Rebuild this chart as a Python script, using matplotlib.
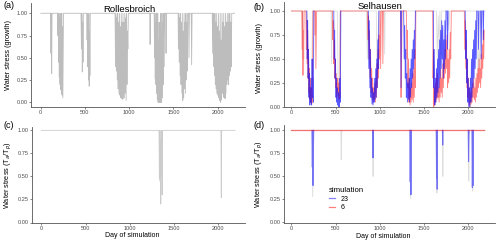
import numpy as np
import matplotlib
matplotlib.use("Agg")
import matplotlib.pyplot as plt
from matplotlib.lines import Line2D

plt.rcParams["font.family"] = ["Liberation Sans", "DejaVu Sans"]
nan = np.nan

# (a) Rollesbroich, growth stress, ensemble (grey)
a_grey_day = [1, 112, 116, 120, 124, 128,
              190, 194, 198, 202, 206, 210, 214, 218, 222, 226, 230, 234, 238, 242, 246, 250, 254, 258,
              455, 460, 465, 470, 474, 478, 482, 520, 524, 528, 532, 536, 540, 544, 548, 552, 556, 560,
              840, 845, 850, 855, 860, 865, 870, 875, 880, 885, 890, 895, 900, 905, 910, 915, 920, 925,
              930, 935, 940, 945, 950, 955, 960, 965, 970, 975, 980, 985, 990,
              1232, 1236, 1240, 1282, 1286, 1290, 1294, 1298, 1302, 1306, 1310, 1314, 1318, 1322, 1326,
              1330, 1334, 1338, 1342, 1346, 1350, 1354, 1358, 1362, 1366, 1370, 1375, 1380, 1385, 1390,
              1395, 1400, 1412, 1416, 1420,
              1552, 1556, 1560, 1565, 1570, 1575, 1580, 1585, 1590, 1595, 1600, 1605, 1610, 1615, 1620,
              1625, 1630, 1635, 1640, 1645, 1650, 1655, 1660, 1670, 1675, 1680, 1700, 1705, 1710,
              1938, 1943, 1948, 1953, 1958, 1963, 1968, 1973, 1978, 1983, 1988, 1993, 1998, 2003, 2008,
              2013, 2018, 2023, 2028, 2033, 2038, 2043, 2048, 2053, 2058, 2063, 2068, 2073, 2078, 2083,
              2088, 2093, 2098, 2103, 2108, 2113, 2118, 2123, 2128, 2133, 2138, 2143, 2148, 2153, 2158,
              2190]
a_grey_val = [1, 1, 0.55, 1, 0.32, 1,
              1, 0.75, 1, 0.45, 1, 0.28, 0.95, 0.2, 1, 0.14, 0.9, 0.1, 1, 0.08, 0.85, 0.05, 0.6, 1,
              1, 0.6, 1, 0.34, 0.9, 0.45, 1, 1, 0.7, 1, 0.4, 0.95, 0.25, 1, 0.18, 0.8, 0.3, 1,
              1, 0.4, 1, 0.35, 0.95, 0.25, 1, 0.15, 0.9, 0.1, 1, 0.08, 0.85, 0.05, 1, 0.04, 0.9, 0.03,
              1, 0.04, 0.9, 0.05, 1, 0.1, 0.95, 0.02, 1, 0.2, 0.8, 0.6, 1,
              1, 0.65, 1, 1, 0.5, 1, 0.26, 0.9, 0.2, 1, 0.1, 0.85, 0.03, 1, 0.0,
              0.7, 0.0, 0.9, 0.0, 0.6, 0.0, 1, 0.0, 0.8, 0.0, 1, 0.05, 0.9, 0.2, 1,
              0.4, 1, 1, 0.55, 1,
              1, 0.6, 1, 0.45, 0.95, 0.3, 1, 0.2, 0.9, 0.1, 1, 0.02, 0.8, 0.05, 1,
              0.15, 0.9, 0.1, 1, 0.25, 0.9, 0.35, 1, 1, 0.5, 1, 1, 0.42, 1,
              1, 0.55, 1, 0.4, 0.95, 0.3, 1, 0.2, 0.9, 0.15, 1, 0.1, 0.85, 0.08, 1,
              0.05, 0.8, 0.02, 1, 0.0, 0.7, 0.03, 1, 0.1, 0.9, 0.06, 1, 0.05, 0.85, 0.04,
              1, 0.1, 0.9, 0.2, 1, 0.25, 0.9, 0.2, 1, 0.3, 1, 0.35, 0.9, 0.4, 1,
              1]

# (b) Selhausen, growth stress
b_grey_day = [1, 120, 125, 130, 180, 190, 200, 210, 220, 230, 240, 450, 455, 460, 520, 530, 540, 550,
              850, 860, 870, 960, 970, 980, 990, 1050, 1055, 1060, 1640, 1650, 1660, 1670, 1680, 1690,
              1700, 1770, 1780, 1790, 2100, 2110, 2120, 2130, 2140, 2190]
b_grey_val = [1, 1, 0.5, 1, 1, 0.3, 0.1, 0.2, 0.05, 0.3, 1, 1, 0.45, 1, 1, 0.2, 0.05, 1,
              1, 0.5, 1, 1, 0.3, 0.7, 1, 1, 0.55, 1, 1, 0.5, 0.95, 0.6, 1, 0.55,
              1, 1, 0.8, 1, 1, 0.3, 0.6, 0.4, 1, 1]

b_red_day = [1, 120, 124, 128, 132, 136, 140, 145,
             165, 170, 175, 180, 185, 190, 195, 200, 205, 210, 215, 220, 225, 230, 235, 240, 245,
             265, 270, 274, 278, 282, 286,
             465, 470, 475, 480, 485, 490, 495, 500, 505, 510, 515, 520, 525, 530, 535, 540, 545, 550, 555,
             860, 866, 872, 878, 884, 890, 896, 902, 908, 914, 920, 926, 932, 938, 944, 950, 956, 962,
             968, 974, 980, 986, 992, 998, 1004, 1010, 1016, 1030, 1035, 1040,
             1236, 1240, 1246, 1252, 1300, 1306, 1312, 1318, 1324, 1330, 1336, 1342, 1348, 1354, 1360,
             1366, 1372, 1378, 1384, 1390, 1396, 1402, 1408,
             1598, 1602, 1606, 1610, 1616, 1622, 1628, 1634, 1640, 1646, 1652, 1658, 1664, 1670, 1676,
             1682, 1688, 1694, 1700, 1706, 1712, 1718, 1724, 1730, 1736, 1742, 1748, 1754, 1760, 1766,
             1772, 1778, 1784, 1790, 1796, 1802, 1808,
             1955, 1960, 1966, 1972, 1978, 1984, 1990, 1996, 2002, 2008, 2014, 2020, 2026, 2032, 2038,
             2044, 2050, 2056, 2062, 2068, 2074, 2080, 2086, 2092, 2098, 2104, 2110, 2116, 2122, 2128,
             2134, 2140, 2146, 2152, 2158, 2164, 2170, 2175, 2180]
b_red_val = [1, 1, 0.6, 1, 0.33, 0.8, 0.5, 1,
             1, 0.6, 0.9, 0.45, 0.8, 0.3, 0.6, 0.15, 0.4, 0.08, 0.3, 0.05, 0.2, 0.03, 0.15, 0.05, 1,
             1, 0.75, 1, 0.4, 0.7, 1,
             1, 0.7, 0.9, 0.45, 0.7, 0.3, 0.5, 0.2, 0.35, 0.1, 0.25, 0.15, 0.3, 0.12, 0.25, 0.08, 0.2, 0.1, 1,
             1, 0.7, 0.95, 0.5, 0.8, 0.3, 0.6, 0.15, 0.4, 0.08, 0.3, 0.05, 0.2, 0.08, 0.25, 0.05, 0.3, 0.1,
             0.45, 0.2, 0.6, 0.3, 0.75, 0.5, 1, 0.4, 1, 1, 0.45, 1,
             1, 0.1, 0.5, 1, 1, 0.5, 0.8, 0.2, 0.5, 0.05, 0.3, 0.02, 0.2, 0.05, 0.25,
             0.08, 0.35, 0.05, 0.4, 0.1, 0.6, 0.2, 1,
             1, 0.3, 0.6, 0.0, 0.2, 0.02, 0.25, 0.05, 0.3, 0.08, 0.35, 0.1, 0.2, 0.05, 0.3,
             0.1, 0.4, 0.15, 0.3, 0.1, 0.45, 0.2, 0.5, 0.3, 0.6, 0.35, 0.7, 0.4, 0.75, 0.2,
             0.5, 0.25, 0.6, 0.3, 0.78, 0.5, 1,
             1, 0.6, 0.9, 0.4, 0.7, 0.2, 0.5, 0.1, 0.3, 0.02, 0.2, 0.0, 0.15, 0.03, 0.2,
             0.05, 0.25, 0.1, 0.3, 0.08, 0.2, 0.05, 0.3, 0.1, 0.35, 0.15, 0.4, 0.2, 0.5, 0.25,
             0.4, 0.2, 0.55, 0.3, 0.65, 0.4, 0.8, 0.5, 0.8]

b_blue_day = [175, 180, 185, 190, 195, 200, 205, 210, 215, 220, 225, 230, 235, 240, 245, 250, 255, nan,
              480, 485, 490, 495, 500, 505, 510, 515, 520, 525, 530, 535, 540, 545, 550, 555, 560, nan,
              870, 876, 882, 888, 894, 900, 906, 912, 918, 924, 930, 936, 942, 948, 954, 960, 966, 972,
              978, 984, 990, nan,
              1235, 1240, 1245, nan,
              1270, 1276, 1282, 1288, 1294, 1300, 1306, 1312, 1318, 1324, 1330, 1336, 1342, 1348, 1354,
              1360, 1366, 1372, 1378, 1384, 1390, 1396, 1402, nan,
              1605, 1610, 1616, 1622, 1628, 1634, 1640, 1646, 1652, 1658, 1664, 1670, 1676, 1682, 1688,
              1694, 1700, 1706, 1712, 1718, 1724, 1730, 1736, 1742, 1748, nan, 1760, 1766, 1772, nan,
              1965, 1970, 1976, 1982, 1988, 1994, 2000, 2006, 2012, 2018, 2024, 2030, 2036, 2042, 2048,
              2054, 2060, 2066, 2072, 2078, 2084, 2090, 2096, nan, 2110, 2116, 2122, nan,
              2140, 2146, 2152, nan, 2165, 2170, 2175]
b_blue_val = [1, 0.5, 0.9, 0.3, 0.6, 0.1, 0.35, 0.02, 0.2, 0.05, 0.3, 0.02, 0.5, 0.1, 0.3, 0.05, 1, nan,
              1, 0.5, 0.8, 0.3, 0.5, 0.1, 0.3, 0.05, 0.2, 0.02, 0.15, 0.0, 0.1, 0.0, 0.3, 0.05, 1, nan,
              1, 0.4, 0.9, 0.2, 0.6, 0.1, 0.3, 0.03, 0.2, 0.02, 0.15, 0.05, 0.3, 0.08, 0.4, 0.1, 0.5, 0.2,
              0.7, 0.4, 1, nan,
              1, 0.2, 1, nan,
              1, 0.5, 0.85, 0.3, 0.6, 0.1, 0.35, 0.05, 0.25, 0.08, 0.3, 0.05, 0.4, 0.1, 0.5,
              0.2, 0.6, 0.3, 0.7, 0.4, 0.8, 0.5, 1, nan,
              1, 0.2, 0.6, 0.02, 0.3, 0.05, 0.4, 0.1, 0.5, 0.15, 0.6, 0.2, 0.7, 0.3, 0.8,
              0.4, 0.9, 0.5, 0.85, 0.3, 0.7, 0.4, 0.9, 0.5, 1, nan, 1, 0.6, 1, nan,
              1, 0.5, 0.8, 0.25, 0.5, 0.05, 0.3, 0.0, 0.2, 0.0, 0.3, 0.05, 0.5, 0.1, 0.6,
              0.2, 0.7, 0.3, 0.8, 0.4, 0.9, 0.5, 1, nan, 1, 0.6, 1, nan,
              1, 0.5, 1, nan, 1, 0.7, 1]

# (c) Rollesbroich, Ta/Tp
c_grey_day = [1, 1330, 1334, 1338, 1342, 1346, 1350, 1354, 1358, 1362, 1366, 1370, 2030, 2034, 2038, 2190]
c_grey_val = [1, 1, 0.48, 1, 0.45, 0.9, 0.2, 1, 0.5, 1, 0.3, 1, 1, 0.27, 1, 1]

# (d) Selhausen, Ta/Tp
d_grey_day = [1, 236, 242, 248, 560, 565, 570, 920, 925, 930, 1342, 1348, 1354, 1640, 1645, 1650,
              1708, 1712, 1716, 2000, 2005, 2010, 2045, 2050, 2055, 2190]
d_grey_val = [1, 1, 0.28, 1, 1, 0.68, 1, 1, 0.5, 1, 1, 0.26, 1, 1, 0.32, 1,
              1, 0.5, 1, 1, 0.45, 1, 1, 0.34, 1, 1]
d_blue_day = [234, 238, 242, 246, 250, 253, nan, 920, 923, 926, nan, 1340, 1344, 1348, 1352, 1356, nan,
              1638, 1642, 1646, 1649, 1652, nan, 1708, 1711, 1714, nan, 2000, 2003, 2006, 2009, nan,
              2042, 2046, 2050, 2054, 2058]
d_blue_val = [1, 0.6, 1, 0.4, 0.8, 1, nan, 1, 0.7, 1, nan, 1, 0.44, 1, 0.3, 1, nan,
              1, 0.48, 1, 0.36, 1, nan, 1, 0.84, 1, nan, 1, 0.66, 0.9, 1, nan,
              1, 0.38, 1, 0.4, 1]
d_red_day = [1, 2180]
d_red_val = [1, 1]

W, H = 500, 244
def box(left, right, top, bottom):
    return [left / W, 1 - bottom / H, (right - left) / W, (bottom - top) / H]

fig = plt.figure(figsize=(5, 2.44), dpi=100)
ax_a = fig.add_axes(box(30.7, 245, 3.3, 106.7))
ax_b = fig.add_axes(box(284.3, 495, 1.7, 107))
ax_c = fig.add_axes(box(31.5, 245, 126.7, 222.5))
ax_d = fig.add_axes(box(284.3, 495, 125, 223.3))

ax_a.plot(a_grey_day, a_grey_val, color="#bdbdbd", lw=0.6)
ax_b.plot(b_grey_day, b_grey_val, color="#dddddd", lw=0.6)
ax_b.plot(b_red_day, b_red_val, color="red", alpha=0.5, lw=0.6)
ax_b.plot(b_blue_day, b_blue_val, color="blue", alpha=0.65, lw=0.6)
ax_c.plot(c_grey_day, c_grey_val, color="#cccccc", lw=0.6)
ax_d.plot(d_grey_day, d_grey_val, color="#dedede", lw=0.7)
ax_d.plot(d_blue_day, d_blue_val, color="blue", alpha=0.5, lw=0.8)
ax_d.plot(d_red_day, d_red_val, color="red", alpha=0.5, lw=0.9)

ax_a.set_xlim(-113, 2308)
ax_c.set_xlim(-111, 2302)
ax_b.set_xlim(-79, 2302)
ax_d.set_xlim(-79, 2302)
ax_a.set_ylim(-0.05, 1.112)
ax_b.set_ylim(0, 1.097)
ax_c.set_ylim(0, 1.04)
ax_d.set_ylim(-0.011, 1.058)

for ax in [ax_a, ax_b, ax_c, ax_d]:
    ax.set_xticks([0, 500, 1000, 1500, 2000])
    ax.set_yticks([0, 0.25, 0.5, 0.75, 1.0])
    ax.set_yticklabels(["0.00", "0.25", "0.50", "0.75", "1.00"])
    ax.tick_params(labelsize=4.1, colors="#555555", labelcolor="#4d4d4d",
                   length=1.5, width=0.5, pad=0.8)
    for s in ["top", "right"]:
        ax.spines[s].set_visible(False)
    for s in ["left", "bottom"]:
        ax.spines[s].set_color("#555555")
        ax.spines[s].set_linewidth(0.6)

ax_a.set_ylabel("Water stress (growth)", fontsize=5.3, va="center")
ax_b.set_ylabel("Water stress (growth)", fontsize=5.3, va="center")
ax_c.set_ylabel("Water stress (T$_a$/T$_p$)", fontsize=5.3, va="center")
ax_d.set_ylabel("Water stress (T$_a$/T$_p$)", fontsize=5.3, va="center")
ax_a.yaxis.set_label_coords(-0.105, 0.5)
ax_b.yaxis.set_label_coords(-0.12, 0.47)
ax_c.yaxis.set_label_coords(-0.109, 0.5)
ax_d.yaxis.set_label_coords(-0.12, 0.5)
ax_c.set_xlabel("Day of simulation", fontsize=5)
ax_d.set_xlabel("Day of simulation", fontsize=5)
ax_c.xaxis.set_label_coords(0.47, -0.104)
ax_d.xaxis.set_label_coords(0.468, -0.10)

fig.text(129 / W, 1 - 9 / H, "Rollesbroich", fontsize=6.8, ha="center", va="center")
fig.text(380 / W, 1 - 6.5 / H, "Selhausen", fontsize=6.8, ha="center", va="center")
fig.text(3 / W, 1 - 5.5 / H, "(a)", fontsize=6.5, ha="left", va="center")
fig.text(253 / W, 1 - 7 / H, "(b)", fontsize=6.5, ha="left", va="center")
fig.text(3 / W, 1 - 126 / H, "(c)", fontsize=6.5, ha="left", va="center")
fig.text(253 / W, 1 - 125 / H, "(d)", fontsize=6.5, ha="left", va="center")

handles = [Line2D([], [], color="blue", alpha=0.5, lw=0.9),
           Line2D([], [], color="red", alpha=0.5, lw=0.9)]
leg = fig.legend(handles, ["23", "6"], title="simulation", loc="upper left",
                 bbox_to_anchor=(329 / W, 1 - 187 / H), frameon=False, fontsize=5,
                 title_fontsize=5.6, handlelength=0.9, handletextpad=0.8, labelspacing=0.25,
                 borderpad=0, borderaxespad=0, alignment="left")

fig.savefig("out.png", dpi=100)
